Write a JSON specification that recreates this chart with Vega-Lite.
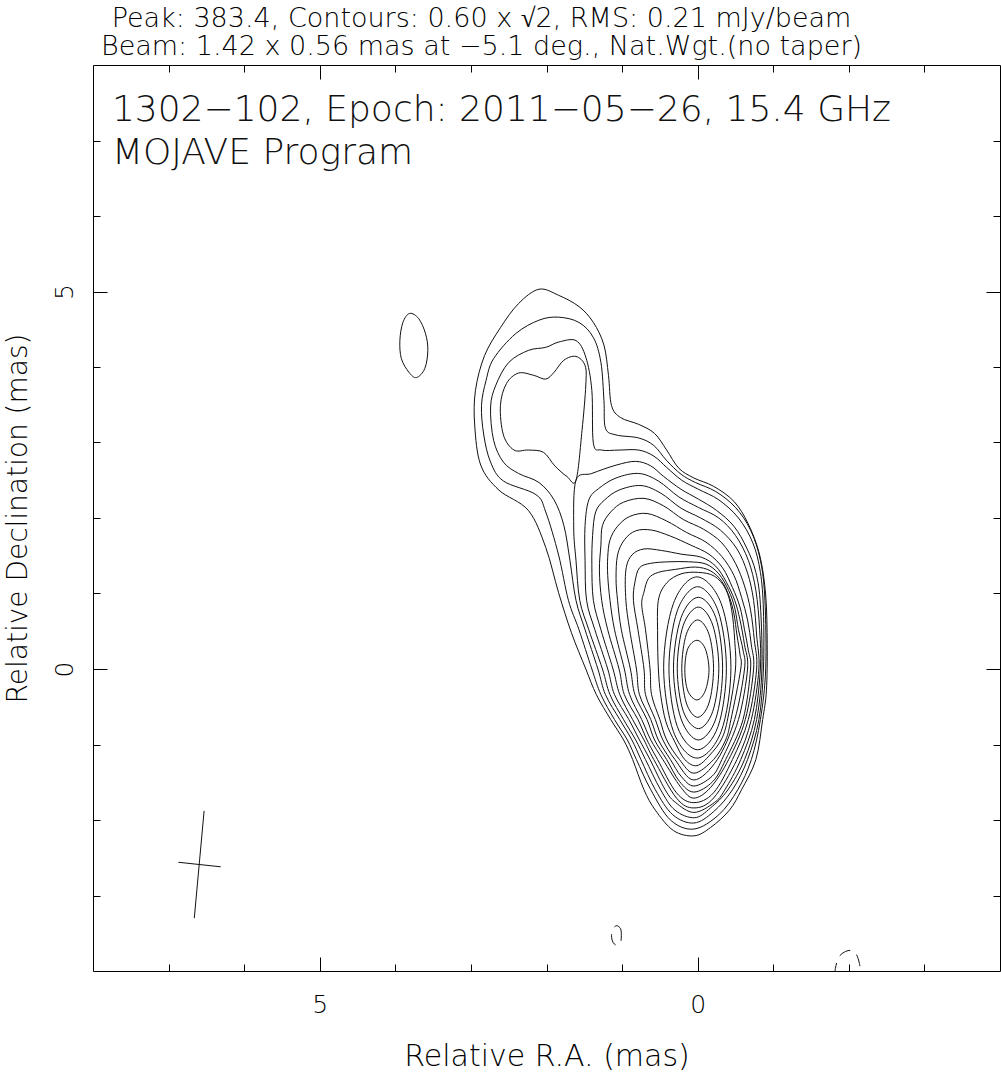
{
  "$schema": "https://vega.github.io/schema/vega-lite/v6.json",
  "width": 907,
  "height": 906,
  "autosize": {"type": "none"},
  "padding": {"left": 93, "top": 65, "right": 1, "bottom": 108},
  "background": "white",
  "config": {
    "view": {"stroke": "#000", "strokeWidth": 1},
    "font": "DejaVu Sans",
    "axis": {"grid": false, "domain": false, "tickColor": "#000", "tickWidth": 1, "labelColor": "#000", "titleColor": "#000", "labelFont": "DejaVu Sans", "titleFont": "DejaVu Sans", "labelFontWeight": 200, "titleFontWeight": 200}
  },
  "title": {
    "text": ["Peak: 383.4, Contours: 0.60 x √2, RMS: 0.21 mJy/beam", "Beam: 1.42 x 0.56 mas at −5.1 deg., Nat.Wgt.(no taper)"],
    "fontSize": 27, "font": "DejaVu Sans", "fontWeight": 200, "lineHeight": 28, "anchor": "middle", "dx": -65, "dy": 30, "offset": 13, "baseline": "alphabetic", "color": "#000"
  },
  "resolve": {"axis": {"x": "independent", "y": "independent"}},
  "layer": [
    {
      "data": {"values": [
        {"c":0,"ra":2.10,"dec":5.03},{"c":0,"ra":1.84,"dec":4.95},{"c":0,"ra":1.57,"dec":4.80},{"c":0,"ra":1.38,"dec":4.59},{"c":0,"ra":1.24,"dec":4.29},{"c":0,"ra":1.18,"dec":3.89},{"c":0,"ra":1.14,"dec":3.49},{"c":0,"ra":1.02,"dec":3.33},{"c":0,"ra":0.78,"dec":3.24},{"c":0,"ra":0.57,"dec":3.12},{"c":0,"ra":0.41,"dec":2.90},{"c":0,"ra":0.25,"dec":2.66},{"c":0,"ra":0.05,"dec":2.53},{"c":0,"ra":-0.21,"dec":2.42},{"c":0,"ra":-0.48,"dec":2.22},{"c":0,"ra":-0.67,"dec":1.92},{"c":0,"ra":-0.82,"dec":1.51},{"c":0,"ra":-0.90,"dec":0.98},{"c":0,"ra":-0.92,"dec":0.32},{"c":0,"ra":-0.91,"dec":-0.28},{"c":0,"ra":-0.86,"dec":-0.67},{"c":0,"ra":-0.77,"dec":-1.20},{"c":0,"ra":-0.58,"dec":-1.60},{"c":0,"ra":-0.42,"dec":-1.87},{"c":0,"ra":-0.17,"dec":-2.10},{"c":0,"ra":0.05,"dec":-2.21},{"c":0,"ra":0.32,"dec":-2.14},{"c":0,"ra":0.56,"dec":-1.87},{"c":0,"ra":0.71,"dec":-1.60},{"c":0,"ra":0.86,"dec":-1.20},{"c":0,"ra":0.98,"dec":-0.94},{"c":0,"ra":1.15,"dec":-0.67},{"c":0,"ra":1.34,"dec":-0.34},{"c":0,"ra":1.48,"dec":0},{"c":0,"ra":1.67,"dec":0.48},{"c":0,"ra":1.84,"dec":1.01},{"c":0,"ra":2.01,"dec":1.61},{"c":0,"ra":2.24,"dec":2.10},{"c":0,"ra":2.63,"dec":2.37},{"c":0,"ra":2.87,"dec":2.70},{"c":0,"ra":2.95,"dec":3.23},{"c":0,"ra":2.94,"dec":3.69},{"c":0,"ra":2.82,"dec":4.15},{"c":0,"ra":2.61,"dec":4.52},{"c":0,"ra":2.37,"dec":4.84},
        {"c":1,"ra":1.84,"dec":4.66},{"c":1,"ra":1.57,"dec":4.59},{"c":1,"ra":1.38,"dec":4.39},{"c":1,"ra":1.28,"dec":4.06},{"c":1,"ra":1.24,"dec":3.56},{"c":1,"ra":1.22,"dec":3.19},{"c":1,"ra":1.08,"dec":3.10},{"c":1,"ra":0.78,"dec":3.06},{"c":1,"ra":0.58,"dec":2.96},{"c":1,"ra":0.41,"dec":2.76},{"c":1,"ra":0.22,"dec":2.58},{"c":1,"ra":0.03,"dec":2.47},{"c":1,"ra":-0.24,"dec":2.35},{"c":1,"ra":-0.50,"dec":2.14},{"c":1,"ra":-0.70,"dec":1.84},{"c":1,"ra":-0.83,"dec":1.44},{"c":1,"ra":-0.89,"dec":0.91},{"c":1,"ra":-0.90,"dec":0},{"c":1,"ra":-0.83,"dec":-0.67},{"c":1,"ra":-0.71,"dec":-1.20},{"c":1,"ra":-0.53,"dec":-1.60},{"c":1,"ra":-0.28,"dec":-1.93},{"c":1,"ra":0.05,"dec":-2.12},{"c":1,"ra":0.36,"dec":-2.00},{"c":1,"ra":0.62,"dec":-1.60},{"c":1,"ra":0.81,"dec":-1.20},{"c":1,"ra":0.93,"dec":-0.94},{"c":1,"ra":1.10,"dec":-0.67},{"c":1,"ra":1.28,"dec":-0.34},{"c":1,"ra":1.40,"dec":0},{"c":1,"ra":1.57,"dec":0.52},{"c":1,"ra":1.71,"dec":0.91},{"c":1,"ra":1.84,"dec":1.51},{"c":1,"ra":2.01,"dec":2.08},{"c":1,"ra":2.14,"dec":2.31},{"c":1,"ra":2.57,"dec":2.49},{"c":1,"ra":2.74,"dec":2.74},{"c":1,"ra":2.83,"dec":3.10},{"c":1,"ra":2.86,"dec":3.49},{"c":1,"ra":2.80,"dec":3.82},{"c":1,"ra":2.70,"dec":4.11},{"c":1,"ra":2.41,"dec":4.44},{"c":1,"ra":2.10,"dec":4.62},
        {"c":2,"ra":1.84,"dec":4.33},{"c":2,"ra":1.61,"dec":4.35},{"c":2,"ra":1.48,"dec":4.13},{"c":2,"ra":1.40,"dec":3.69},{"c":2,"ra":1.38,"dec":2.99},{"c":2,"ra":1.27,"dec":2.90},{"c":2,"ra":1.04,"dec":2.90},{"c":2,"ra":0.78,"dec":2.90},{"c":2,"ra":0.58,"dec":2.82},{"c":2,"ra":0.41,"dec":2.67},{"c":2,"ra":0.21,"dec":2.50},{"c":2,"ra":-0.01,"dec":2.38},{"c":2,"ra":-0.28,"dec":2.24},{"c":2,"ra":-0.54,"dec":2.00},{"c":2,"ra":-0.73,"dec":1.67},{"c":2,"ra":-0.83,"dec":1.28},{"c":2,"ra":-0.87,"dec":0.78},{"c":2,"ra":-0.87,"dec":0},{"c":2,"ra":-0.81,"dec":-0.67},{"c":2,"ra":-0.66,"dec":-1.20},{"c":2,"ra":-0.46,"dec":-1.60},{"c":2,"ra":-0.21,"dec":-1.89},{"c":2,"ra":0.05,"dec":-2.04},{"c":2,"ra":0.33,"dec":-1.93},{"c":2,"ra":0.56,"dec":-1.60},{"c":2,"ra":0.75,"dec":-1.20},{"c":2,"ra":0.87,"dec":-0.94},{"c":2,"ra":1.03,"dec":-0.67},{"c":2,"ra":1.22,"dec":-0.34},{"c":2,"ra":1.32,"dec":0},{"c":2,"ra":1.49,"dec":0.52},{"c":2,"ra":1.61,"dec":0.91},{"c":2,"ra":1.69,"dec":1.44},{"c":2,"ra":1.77,"dec":1.90},{"c":2,"ra":1.90,"dec":2.24},{"c":2,"ra":2.10,"dec":2.47},{"c":2,"ra":2.37,"dec":2.59},{"c":2,"ra":2.57,"dec":2.74},{"c":2,"ra":2.70,"dec":3.03},{"c":2,"ra":2.74,"dec":3.47},{"c":2,"ra":2.67,"dec":3.76},{"c":2,"ra":2.50,"dec":4.06},{"c":2,"ra":2.24,"dec":4.22},{"c":2,"ra":2.01,"dec":4.26},
        {"c":3,"ra":1.61,"dec":2.50},{"c":3,"ra":1.40,"dec":2.59},{"c":3,"ra":1.08,"dec":2.70},{"c":3,"ra":0.82,"dec":2.75},{"c":3,"ra":0.62,"dec":2.69},{"c":3,"ra":0.45,"dec":2.55},{"c":3,"ra":0.22,"dec":2.38},{"c":3,"ra":-0.01,"dec":2.25},{"c":3,"ra":-0.25,"dec":2.10},{"c":3,"ra":-0.48,"dec":1.89},{"c":3,"ra":-0.65,"dec":1.60},{"c":3,"ra":-0.77,"dec":1.28},{"c":3,"ra":-0.83,"dec":0.85},{"c":3,"ra":-0.85,"dec":0},{"c":3,"ra":-0.78,"dec":-0.67},{"c":3,"ra":-0.62,"dec":-1.20},{"c":3,"ra":-0.40,"dec":-1.60},{"c":3,"ra":-0.17,"dec":-1.84},{"c":3,"ra":0.04,"dec":-1.97},{"c":3,"ra":0.30,"dec":-1.87},{"c":3,"ra":0.49,"dec":-1.60},{"c":3,"ra":0.69,"dec":-1.20},{"c":3,"ra":0.82,"dec":-0.94},{"c":3,"ra":0.98,"dec":-0.67},{"c":3,"ra":1.16,"dec":-0.34},{"c":3,"ra":1.26,"dec":0},{"c":3,"ra":1.44,"dec":0.52},{"c":3,"ra":1.56,"dec":0.91},{"c":3,"ra":1.61,"dec":1.44},{"c":3,"ra":1.64,"dec":1.88},
        {"c":19,"ra":1.61,"dec":2.50},{"c":19,"ra":1.53,"dec":3.16},{"c":19,"ra":1.48,"dec":3.76},{"c":19,"ra":1.49,"dec":4.02},{"c":19,"ra":1.61,"dec":4.14},{"c":19,"ra":1.77,"dec":4.09},{"c":19,"ra":1.90,"dec":3.93},{"c":19,"ra":2.01,"dec":3.84},{"c":19,"ra":2.17,"dec":3.89},{"c":19,"ra":2.37,"dec":3.92},{"c":19,"ra":2.53,"dec":3.78},{"c":19,"ra":2.61,"dec":3.49},{"c":19,"ra":2.57,"dec":3.10},{"c":19,"ra":2.43,"dec":2.90},{"c":19,"ra":2.24,"dec":2.90},{"c":19,"ra":2.04,"dec":2.87},{"c":19,"ra":1.89,"dec":2.69},{"c":19,"ra":1.73,"dec":2.55},
        {"c":4,"ra":1.44,"dec":2.24},{"c":4,"ra":1.31,"dec":2.39},{"c":4,"ra":1.08,"dec":2.53},{"c":4,"ra":0.78,"dec":2.59},{"c":4,"ra":0.52,"dec":2.49},{"c":4,"ra":0.25,"dec":2.28},{"c":4,"ra":-0.01,"dec":2.14},{"c":4,"ra":-0.28,"dec":2.00},{"c":4,"ra":-0.50,"dec":1.77},{"c":4,"ra":-0.67,"dec":1.44},{"c":4,"ra":-0.77,"dec":1.04},{"c":4,"ra":-0.82,"dec":0.52},{"c":4,"ra":-0.83,"dec":0},{"c":4,"ra":-0.75,"dec":-0.67},{"c":4,"ra":-0.57,"dec":-1.20},{"c":4,"ra":-0.36,"dec":-1.60},{"c":4,"ra":-0.22,"dec":-1.77},{"c":4,"ra":0.05,"dec":-1.90},{"c":4,"ra":0.29,"dec":-1.77},{"c":4,"ra":0.43,"dec":-1.60},{"c":4,"ra":0.63,"dec":-1.20},{"c":4,"ra":0.77,"dec":-0.94},{"c":4,"ra":0.91,"dec":-0.67},{"c":4,"ra":1.10,"dec":-0.34},{"c":4,"ra":1.19,"dec":0},{"c":4,"ra":1.36,"dec":0.52},{"c":4,"ra":1.47,"dec":0.91},{"c":4,"ra":1.49,"dec":1.44},{"c":4,"ra":1.49,"dec":1.90},
        {"c":5,"ra":1.35,"dec":2.08},{"c":5,"ra":1.23,"dec":2.24},{"c":5,"ra":1.04,"dec":2.37},{"c":5,"ra":0.75,"dec":2.43},{"c":5,"ra":0.49,"dec":2.33},{"c":5,"ra":0.22,"dec":2.13},{"c":5,"ra":-0.04,"dec":2.00},{"c":5,"ra":-0.30,"dec":1.84},{"c":5,"ra":-0.52,"dec":1.59},{"c":5,"ra":-0.66,"dec":1.27},{"c":5,"ra":-0.74,"dec":0.91},{"c":5,"ra":-0.78,"dec":0.45},{"c":5,"ra":-0.81,"dec":0},{"c":5,"ra":-0.71,"dec":-0.67},{"c":5,"ra":-0.52,"dec":-1.20},{"c":5,"ra":-0.21,"dec":-1.71},{"c":5,"ra":0.05,"dec":-1.84},{"c":5,"ra":0.28,"dec":-1.71},{"c":5,"ra":0.58,"dec":-1.20},{"c":5,"ra":0.71,"dec":-0.94},{"c":5,"ra":0.86,"dec":-0.67},{"c":5,"ra":1.03,"dec":-0.34},{"c":5,"ra":1.12,"dec":0},{"c":5,"ra":1.28,"dec":0.52},{"c":5,"ra":1.38,"dec":0.91},{"c":5,"ra":1.40,"dec":1.38},{"c":5,"ra":1.39,"dec":1.77},
        {"c":6,"ra":1.26,"dec":1.90},{"c":6,"ra":1.15,"dec":2.08},{"c":6,"ra":0.98,"dec":2.21},{"c":6,"ra":0.71,"dec":2.26},{"c":6,"ra":0.45,"dec":2.16},{"c":6,"ra":0.19,"dec":1.98},{"c":6,"ra":-0.08,"dec":1.85},{"c":6,"ra":-0.32,"dec":1.67},{"c":6,"ra":-0.50,"dec":1.40},{"c":6,"ra":-0.62,"dec":1.10},{"c":6,"ra":-0.70,"dec":0.78},{"c":6,"ra":-0.75,"dec":0.38},{"c":6,"ra":-0.78,"dec":0},{"c":6,"ra":-0.67,"dec":-0.67},{"c":6,"ra":-0.46,"dec":-1.20},{"c":6,"ra":-0.21,"dec":-1.64},{"c":6,"ra":0.05,"dec":-1.77},{"c":6,"ra":0.28,"dec":-1.64},{"c":6,"ra":0.53,"dec":-1.20},{"c":6,"ra":0.67,"dec":-0.94},{"c":6,"ra":0.79,"dec":-0.67},{"c":6,"ra":0.97,"dec":-0.34},{"c":6,"ra":1.04,"dec":0},{"c":6,"ra":1.19,"dec":0.52},{"c":6,"ra":1.27,"dec":0.91},{"c":6,"ra":1.30,"dec":1.31},{"c":6,"ra":1.28,"dec":1.64},
        {"c":7,"ra":1.16,"dec":1.71},{"c":7,"ra":1.06,"dec":1.89},{"c":7,"ra":0.90,"dec":2.02},{"c":7,"ra":0.67,"dec":2.06},{"c":7,"ra":0.41,"dec":1.96},{"c":7,"ra":0.15,"dec":1.81},{"c":7,"ra":-0.11,"dec":1.68},{"c":7,"ra":-0.32,"dec":1.49},{"c":7,"ra":-0.48,"dec":1.24},{"c":7,"ra":-0.58,"dec":0.95},{"c":7,"ra":-0.66,"dec":0.65},{"c":7,"ra":-0.71,"dec":0.32},{"c":7,"ra":-0.74,"dec":0},{"c":7,"ra":-0.63,"dec":-0.67},{"c":7,"ra":-0.41,"dec":-1.20},{"c":7,"ra":-0.17,"dec":-1.57},{"c":7,"ra":0.05,"dec":-1.71},{"c":7,"ra":0.22,"dec":-1.57},{"c":7,"ra":0.46,"dec":-1.20},{"c":7,"ra":0.62,"dec":-0.94},{"c":7,"ra":0.74,"dec":-0.67},{"c":7,"ra":0.90,"dec":-0.34},{"c":7,"ra":0.97,"dec":0},{"c":7,"ra":1.10,"dec":0.52},{"c":7,"ra":1.16,"dec":0.91},{"c":7,"ra":1.19,"dec":1.24},{"c":7,"ra":1.19,"dec":1.48},
        {"c":8,"ra":1.06,"dec":1.51},{"c":8,"ra":0.97,"dec":1.71},{"c":8,"ra":0.82,"dec":1.83},{"c":8,"ra":0.61,"dec":1.84},{"c":8,"ra":0.36,"dec":1.76},{"c":8,"ra":0.09,"dec":1.64},{"c":8,"ra":-0.15,"dec":1.52},{"c":8,"ra":-0.33,"dec":1.34},{"c":8,"ra":-0.46,"dec":1.08},{"c":8,"ra":-0.56,"dec":0.82},{"c":8,"ra":-0.62,"dec":0.52},{"c":8,"ra":-0.67,"dec":0.25},{"c":8,"ra":-0.70,"dec":0},{"c":8,"ra":-0.60,"dec":-0.67},{"c":8,"ra":-0.37,"dec":-1.20},{"c":8,"ra":-0.20,"dec":-1.49},{"c":8,"ra":0.05,"dec":-1.63},{"c":8,"ra":0.24,"dec":-1.49},{"c":8,"ra":0.41,"dec":-1.20},{"c":8,"ra":0.57,"dec":-0.94},{"c":8,"ra":0.67,"dec":-0.67},{"c":8,"ra":0.83,"dec":-0.34},{"c":8,"ra":0.89,"dec":0},{"c":8,"ra":1.01,"dec":0.52},{"c":8,"ra":1.06,"dec":0.91},{"c":8,"ra":1.08,"dec":1.20},
        {"c":9,"ra":0.95,"dec":1.31},{"c":9,"ra":0.87,"dec":1.51},{"c":9,"ra":0.71,"dec":1.59},{"c":9,"ra":0.48,"dec":1.57},{"c":9,"ra":0.21,"dec":1.52},{"c":9,"ra":-0.05,"dec":1.48},{"c":9,"ra":-0.24,"dec":1.36},{"c":9,"ra":-0.38,"dec":1.15},{"c":9,"ra":-0.49,"dec":0.91},{"c":9,"ra":-0.56,"dec":0.65},{"c":9,"ra":-0.62,"dec":0.32},{"c":9,"ra":-0.66,"dec":0},{"c":9,"ra":-0.54,"dec":-0.67},{"c":9,"ra":-0.32,"dec":-1.20},{"c":9,"ra":-0.19,"dec":-1.42},{"c":9,"ra":0.05,"dec":-1.55},{"c":9,"ra":0.22,"dec":-1.42},{"c":9,"ra":0.36,"dec":-1.20},{"c":9,"ra":0.52,"dec":-0.94},{"c":9,"ra":0.62,"dec":-0.67},{"c":9,"ra":0.77,"dec":-0.34},{"c":9,"ra":0.81,"dec":0},{"c":9,"ra":0.90,"dec":0.52},{"c":9,"ra":0.95,"dec":0.91},
        {"c":10,"ra":0.83,"dec":1.15},{"c":10,"ra":0.77,"dec":1.34},{"c":10,"ra":0.62,"dec":1.40},{"c":10,"ra":0.38,"dec":1.42},{"c":10,"ra":0.12,"dec":1.42},{"c":10,"ra":-0.11,"dec":1.39},{"c":10,"ra":-0.28,"dec":1.26},{"c":10,"ra":-0.41,"dec":1.04},{"c":10,"ra":-0.49,"dec":0.81},{"c":10,"ra":-0.54,"dec":0.52},{"c":10,"ra":-0.60,"dec":0.25},{"c":10,"ra":-0.62,"dec":0},{"c":10,"ra":-0.49,"dec":-0.67},{"c":10,"ra":-0.26,"dec":-1.20},{"c":10,"ra":0.05,"dec":-1.47},{"c":10,"ra":0.30,"dec":-1.20},{"c":10,"ra":0.46,"dec":-0.94},{"c":10,"ra":0.56,"dec":-0.67},{"c":10,"ra":0.69,"dec":-0.34},{"c":10,"ra":0.71,"dec":0},{"c":10,"ra":0.79,"dec":0.52},{"c":10,"ra":0.85,"dec":0.91},
        {"c":11,"ra":0.71,"dec":1.02},{"c":11,"ra":0.65,"dec":1.20},{"c":11,"ra":0.52,"dec":1.28},{"c":11,"ra":0.29,"dec":1.32},{"c":11,"ra":0.03,"dec":1.35},{"c":11,"ra":-0.17,"dec":1.30},{"c":11,"ra":-0.32,"dec":1.16},{"c":11,"ra":-0.42,"dec":0.95},{"c":11,"ra":-0.48,"dec":0.73},{"c":11,"ra":-0.52,"dec":0.45},{"c":11,"ra":-0.56,"dec":0.19},{"c":11,"ra":-0.57,"dec":0},{"c":11,"ra":-0.44,"dec":-0.67},{"c":11,"ra":-0.37,"dec":-0.94},{"c":11,"ra":-0.21,"dec":-1.20},{"c":11,"ra":0.05,"dec":-1.38},{"c":11,"ra":0.24,"dec":-1.20},{"c":11,"ra":0.41,"dec":-0.94},{"c":11,"ra":0.50,"dec":-0.67},{"c":11,"ra":0.61,"dec":-0.34},{"c":11,"ra":0.63,"dec":0},{"c":11,"ra":0.69,"dec":0.52},{"c":11,"ra":0.74,"dec":0.85},
        {"c":12,"ra":0.52,"dec":0.91},{"c":12,"ra":0.41,"dec":1.14},{"c":12,"ra":0.22,"dec":1.26},{"c":12,"ra":-0.01,"dec":1.28},{"c":12,"ra":-0.22,"dec":1.23},{"c":12,"ra":-0.37,"dec":1.06},{"c":12,"ra":-0.45,"dec":0.78},{"c":12,"ra":-0.49,"dec":0.38},{"c":12,"ra":-0.50,"dec":0},{"c":12,"ra":-0.42,"dec":-0.54},{"c":12,"ra":-0.33,"dec":-0.90},{"c":12,"ra":-0.16,"dec":-1.14},{"c":12,"ra":0.01,"dec":-1.28},{"c":12,"ra":0.17,"dec":-1.20},{"c":12,"ra":0.30,"dec":-0.97},{"c":12,"ra":0.42,"dec":-0.70},{"c":12,"ra":0.49,"dec":-0.34},{"c":12,"ra":0.52,"dec":0},{"c":12,"ra":0.53,"dec":0.45},
        {"c":13,"ra":0.01,"dec":1.22},{"c":13,"ra":-0.31,"dec":0.87},{"c":13,"ra":-0.44,"dec":0.02},{"c":13,"ra":-0.31,"dec":-0.83},{"c":13,"ra":0.01,"dec":-1.18},{"c":13,"ra":0.32,"dec":-0.83},{"c":13,"ra":0.45,"dec":0.02},{"c":13,"ra":0.32,"dec":0.87},
        {"c":14,"ra":0,"dec":1.09},{"c":14,"ra":-0.27,"dec":0.77},{"c":14,"ra":-0.38,"dec":0.01},{"c":14,"ra":-0.27,"dec":-0.76},{"c":14,"ra":0,"dec":-1.07},{"c":14,"ra":0.27,"dec":-0.76},{"c":14,"ra":0.38,"dec":0.01},{"c":14,"ra":0.27,"dec":0.77},
        {"c":15,"ra":-0.01,"dec":0.95},{"c":15,"ra":-0.24,"dec":0.68},{"c":15,"ra":-0.33,"dec":0.01},{"c":15,"ra":-0.24,"dec":-0.66},{"c":15,"ra":-0.01,"dec":-0.94},{"c":15,"ra":0.22,"dec":-0.66},{"c":15,"ra":0.32,"dec":0.01},{"c":15,"ra":0.22,"dec":0.68},
        {"c":16,"ra":-0.01,"dec":0.82},{"c":16,"ra":-0.20,"dec":0.58},{"c":16,"ra":-0.28,"dec":0.01},{"c":16,"ra":-0.20,"dec":-0.56},{"c":16,"ra":-0.01,"dec":-0.79},{"c":16,"ra":0.19,"dec":-0.56},{"c":16,"ra":0.27,"dec":0.01},{"c":16,"ra":0.19,"dec":0.58},
        {"c":17,"ra":0,"dec":0.65},{"c":17,"ra":-0.15,"dec":0.46},{"c":17,"ra":-0.21,"dec":0.01},{"c":17,"ra":-0.15,"dec":-0.45},{"c":17,"ra":0,"dec":-0.64},{"c":17,"ra":0.15,"dec":-0.45},{"c":17,"ra":0.21,"dec":0.01},{"c":17,"ra":0.15,"dec":0.46},
        {"c":18,"ra":0.01,"dec":0.38},{"c":18,"ra":-0.10,"dec":0.27},{"c":18,"ra":-0.15,"dec":-0.01},{"c":18,"ra":-0.10,"dec":-0.29},{"c":18,"ra":0.01,"dec":-0.41},{"c":18,"ra":0.13,"dec":-0.29},{"c":18,"ra":0.17,"dec":-0.01},{"c":18,"ra":0.13,"dec":0.27},
        {"c":20,"ra":3.81,"dec":4.71},{"c":20,"ra":3.69,"dec":4.64},{"c":20,"ra":3.60,"dec":4.44},{"c":20,"ra":3.57,"dec":4.22},{"c":20,"ra":3.61,"dec":3.98},{"c":20,"ra":3.72,"dec":3.86},{"c":20,"ra":3.82,"dec":3.93},{"c":20,"ra":3.92,"dec":4.11},{"c":20,"ra":3.94,"dec":4.35},{"c":20,"ra":3.90,"dec":4.59}
      ]},
      "mark": {"type": "line", "interpolate": "cardinal-closed", "stroke": "#111", "strokeWidth": 1, "clip": true},
      "encoding": {
        "x": {"field": "ra", "type": "quantitative", "scale": {"domain": [-4, 8], "reverse": true, "nice": false, "zero": false},
              "axis": {"orient": "bottom", "values": [-3, -2, -1, 1, 2, 3, 4, 6, 7], "tickSize": -7, "labels": false, "title": null}},
        "y": {"field": "dec", "type": "quantitative", "scale": {"domain": [-4, 8], "nice": false, "zero": false},
              "axis": {"orient": "left", "values": [-3, -2, -1, 1, 2, 3, 4, 6, 7], "tickSize": -7, "labels": false, "title": null}},
        "detail": {"field": "c", "type": "nominal"},
        "order": {"value": null}
      }
    },
    {
      "data": {"values": [
        {"ra":1.07,"dec":-3.40},{"ra":1.02,"dec":-3.44},{"ra":1.01,"dec":-3.53},{"ra":1.02,"dec":-3.62},{"ra":1.07,"dec":-3.66},{"ra":1.12,"dec":-3.62},{"ra":1.14,"dec":-3.53},{"ra":1.12,"dec":-3.44}
      ]},
      "mark": {"type": "line", "interpolate": "cardinal-closed", "stroke": "#111", "strokeWidth": 1, "strokeDash": [12, 8], "clip": true},
      "encoding": {
        "x": {"field": "ra", "type": "quantitative", "scale": {"domain": [-4, 8], "reverse": true, "nice": false, "zero": false},
              "axis": {"orient": "bottom", "values": [0, 5], "tickSize": -14, "labelPadding": 35, "labelFontSize": 25, "title": "Relative R.A. (mas)", "titleFontSize": 30, "titlePadding": 24}},
        "y": {"field": "dec", "type": "quantitative", "scale": {"domain": [-4, 8], "nice": false, "zero": false},
              "axis": {"orient": "left", "values": [0, 5], "tickSize": -14, "labelPadding": 35, "labelAngle": -90, "labelAlign": "center", "labelBaseline": "alphabetic", "labelFontSize": 25, "title": "Relative Declination (mas)", "titleFontSize": 28, "titlePadding": 20}},
        "order": {"value": null}
      }
    },
    {
      "data": {"values": [
        {"ra":-1.81,"dec":-4.05},{"ra":-1.83,"dec":-3.93},{"ra":-1.87,"dec":-3.81},{"ra":-1.96,"dec":-3.74},{"ra":-2.04,"dec":-3.73},{"ra":-2.10,"dec":-3.78},{"ra":-2.14,"dec":-3.90},{"ra":-2.16,"dec":-4.05}
      ]},
      "mark": {"type": "line", "interpolate": "cardinal", "stroke": "#111", "strokeWidth": 1, "strokeDash": [12, 8], "clip": true},
      "encoding": {
        "x": {"field": "ra", "type": "quantitative", "scale": {"domain": [-4, 8], "reverse": true, "nice": false, "zero": false},
              "axis": {"orient": "top", "values": [-3, -2, -1, 1, 2, 3, 4, 6, 7], "tickSize": -7, "labels": false, "title": null}},
        "y": {"field": "dec", "type": "quantitative", "scale": {"domain": [-4, 8], "nice": false, "zero": false},
              "axis": {"orient": "right", "values": [-3, -2, -1, 1, 2, 3, 4, 6, 7], "tickSize": -7, "labels": false, "title": null}},
        "order": {"value": null}
      }
    },
    {
      "data": {"values": [
        {"ra": 6.53, "dec": -1.88, "ra2": 6.66, "dec2": -3.30},
        {"ra": 6.87, "dec": -2.56, "ra2": 6.31, "dec2": -2.62}
      ]},
      "mark": {"type": "rule", "stroke": "#111", "strokeWidth": 1},
      "encoding": {
        "x": {"field": "ra", "type": "quantitative", "scale": {"domain": [-4, 8], "reverse": true, "nice": false, "zero": false},
              "axis": {"orient": "top", "values": [0, 5], "tickSize": -14, "labels": false, "title": null}},
        "y": {"field": "dec", "type": "quantitative", "scale": {"domain": [-4, 8], "nice": false, "zero": false},
              "axis": {"orient": "right", "values": [0, 5], "tickSize": -14, "labels": false, "title": null}},
        "x2": {"field": "ra2"},
        "y2": {"field": "dec2"}
      }
    },
    {
      "data": {"values": [{}]},
      "mark": {"type": "text", "text": "1302−102, Epoch: 2011−05−26, 15.4 GHz", "font": "DejaVu Sans", "fontSize": 36, "fontWeight": 200, "align": "left", "baseline": "alphabetic", "color": "#111"},
      "encoding": {
        "x": {"datum": 7.75, "type": "quantitative", "scale": {"domain": [-4, 8], "reverse": true, "nice": false, "zero": false}, "axis": null},
        "y": {"datum": 7.26, "type": "quantitative", "scale": {"domain": [-4, 8], "nice": false, "zero": false}, "axis": null}
      }
    },
    {
      "data": {"values": [{}]},
      "mark": {"type": "text", "text": "MOJAVE Program", "font": "DejaVu Sans", "fontSize": 36, "fontWeight": 200, "align": "left", "baseline": "alphabetic", "color": "#111"},
      "encoding": {
        "x": {"datum": 7.75, "type": "quantitative", "scale": {"domain": [-4, 8], "reverse": true, "nice": false, "zero": false}, "axis": null},
        "y": {"datum": 6.69, "type": "quantitative", "scale": {"domain": [-4, 8], "nice": false, "zero": false}, "axis": null}
      }
    }
  ]
}
